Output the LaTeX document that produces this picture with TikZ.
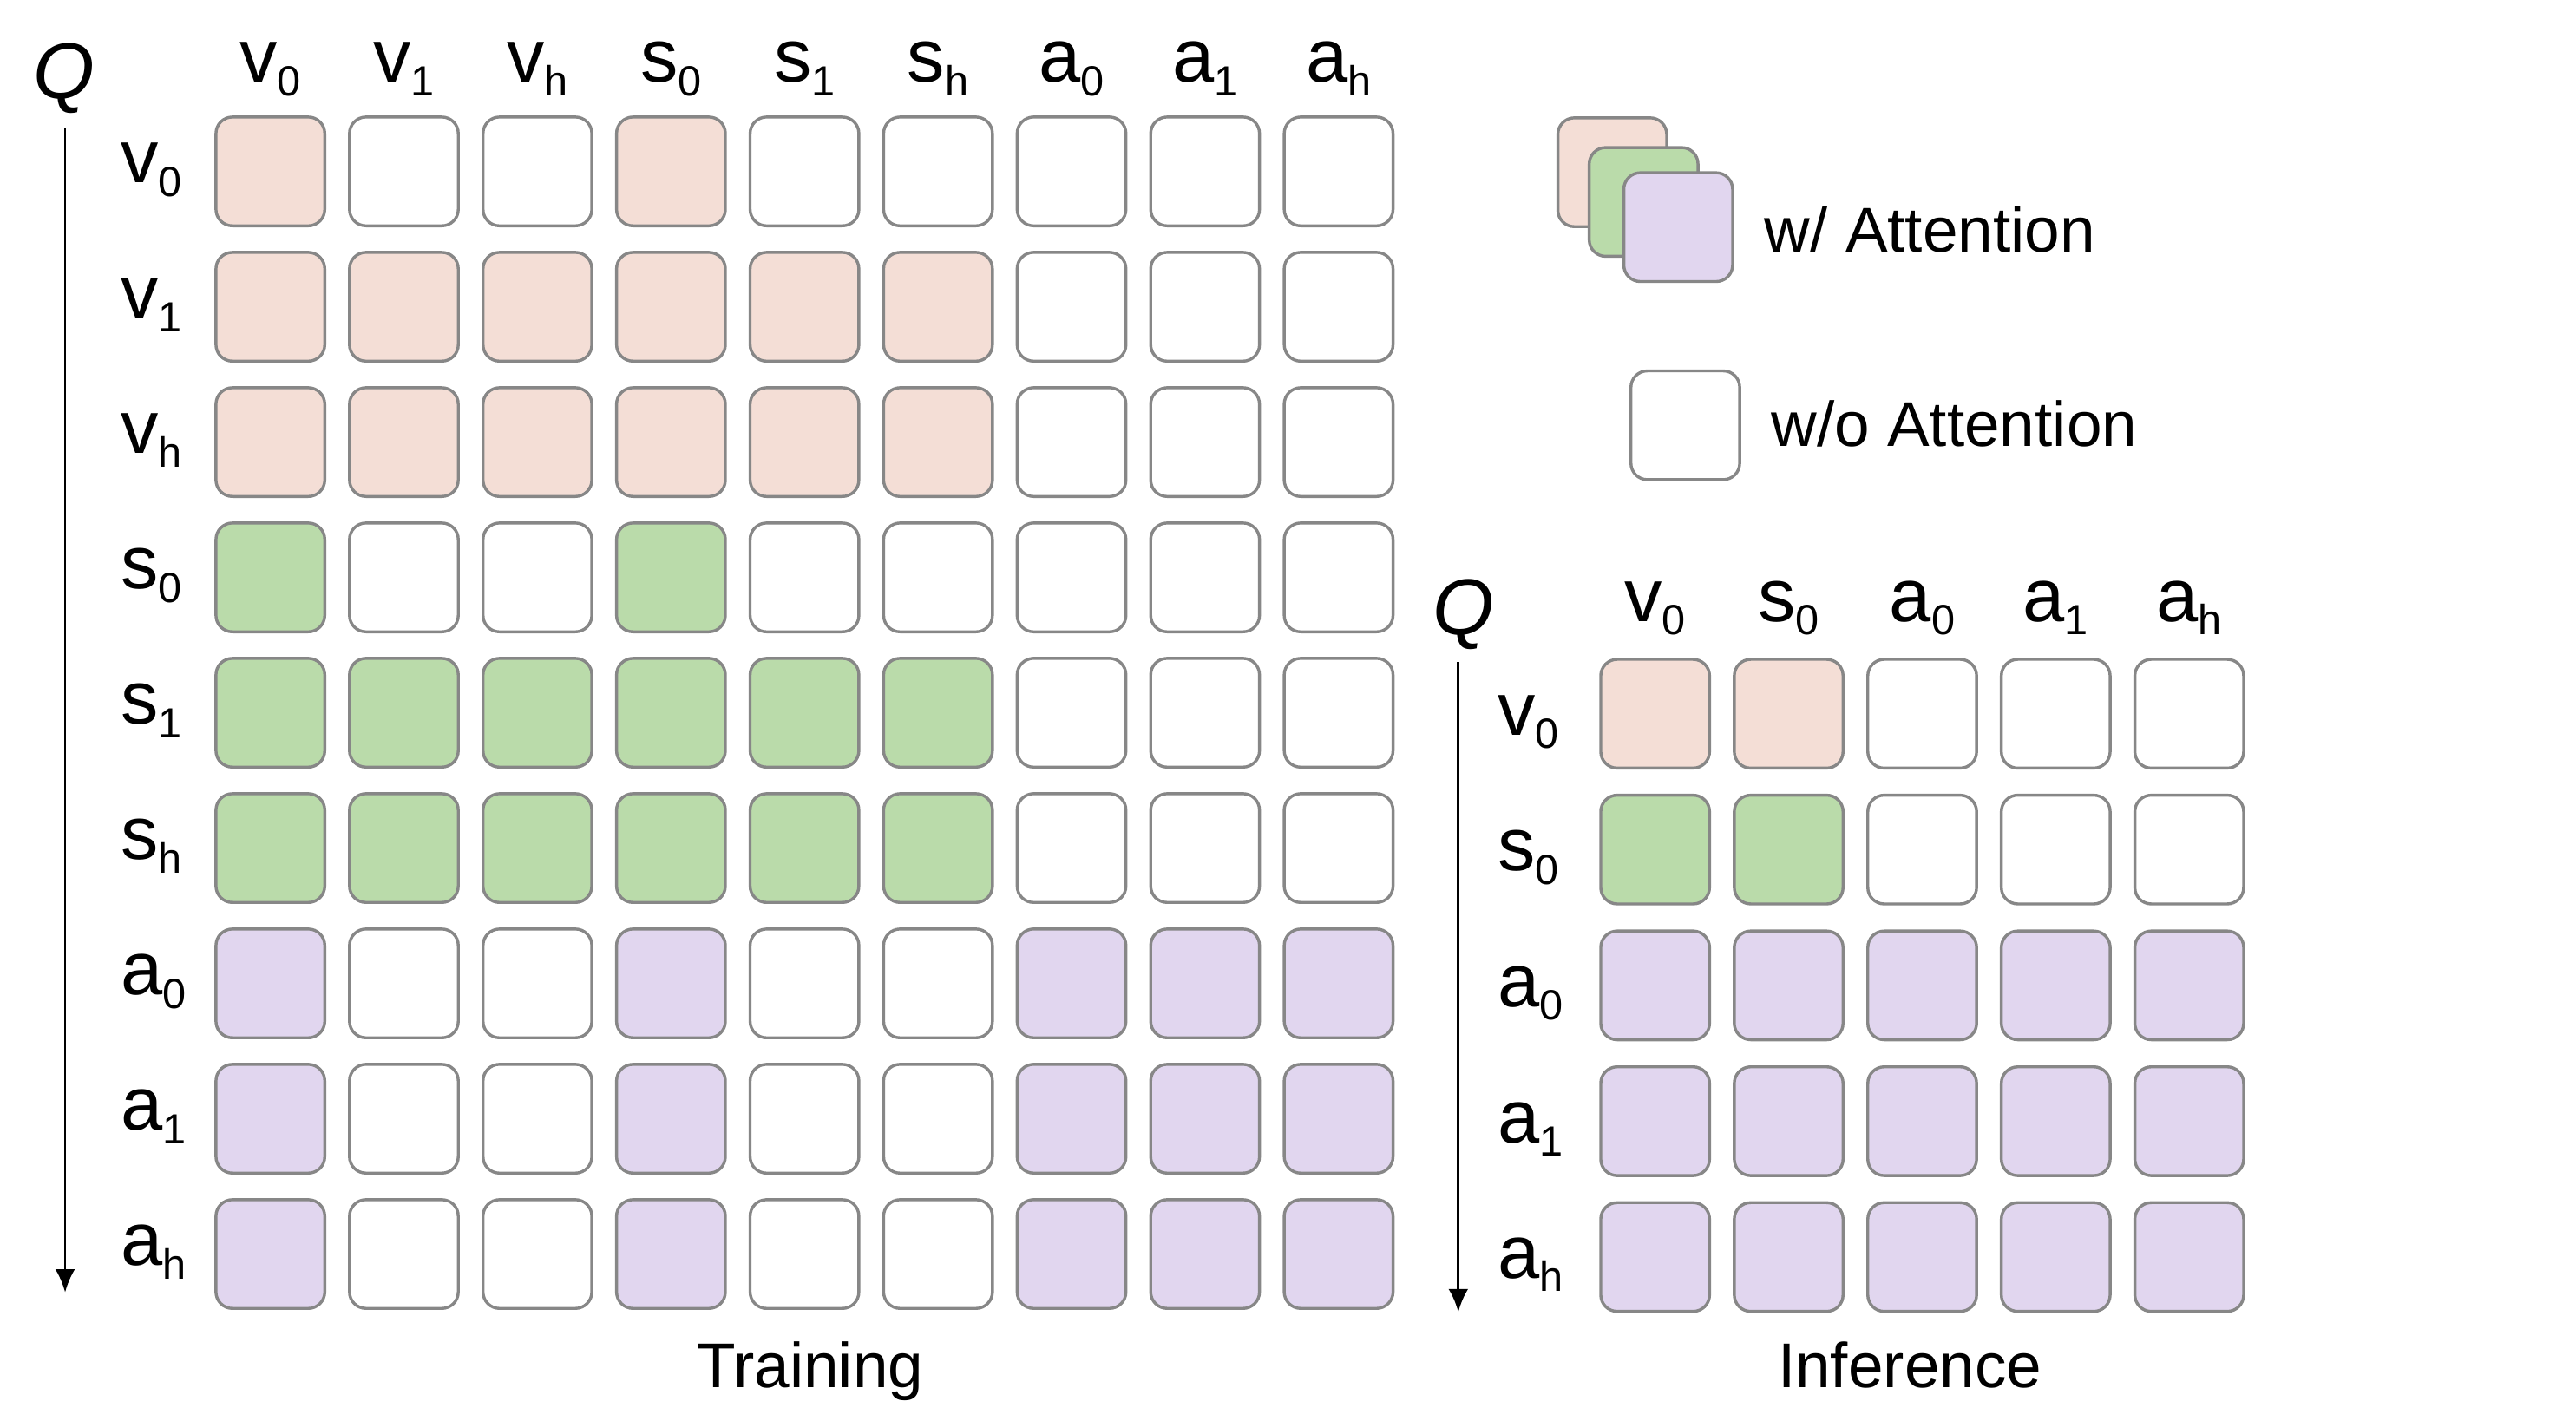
\documentclass[tikz,border=0pt]{standalone}
\usepackage{fontspec}
\setmainfont{Liberation Sans}
\usetikzlibrary{arrows.meta}
\definecolor{cp}{HTML}{F4DED6}
\definecolor{cg}{HTML}{BADBAA}
\definecolor{cu}{HTML}{E1D6EF}
\definecolor{cw}{HTML}{FFFFFF}
\definecolor{cellgray}{HTML}{878787}
\newcommand\tkn[2]{#1\raisebox{-4pt}{\fontsize{12.8}{13}\selectfont #2}}
\tikzset{
  cell/.style={draw=cellgray, line width=0.9pt, rounded corners=5pt, minimum size=33pt, inner sep=0pt},
  tok/.style={font=\fontsize{22.8}{24}\selectfont, inner sep=0pt},
  caption/.style={font=\fontsize{19.2}{21}\selectfont, inner sep=0pt, anchor=base},
  qlabel/.style={font=\fontsize{24}{26}\selectfont\itshape, inner sep=0pt, anchor=base west},
  qarrow/.style={line width=0.75pt, -{Latex[length=7pt,width=6pt]}},
}
\begin{document}
\begin{tikzpicture}[x=0.5pt, y=-0.5pt]
            \useasboundingbox (0,0) rectangle (1562.6,861.6);
            % training
            \foreach \row [count=\r] in {{p,w,w,p,w,w,w,w,w},{p,p,p,p,p,p,w,w,w},{p,p,p,p,p,p,w,w,w},
                {g,w,w,g,w,w,w,w,w},{g,g,g,g,g,g,w,w,w},{g,g,g,g,g,g,w,w,w},
                {u,w,w,u,w,w,u,u,u},{u,w,w,u,w,w,u,u,u},{u,w,w,u,w,w,u,u,u}}
                {
                    \foreach \f [count=\c] in \row
                        {
                            \node[cell, fill=c\f] (t-\r-\c) at ({164+81*(\c-1)},{104+82.1*(\r-1)}) {};
                        }
                }
            \foreach \sym/\idx [count=\r] in {v/0,v/1,v/h,s/0,s/1,s/h,a/0,a/1,a/h}
                {
                    \node[tok, anchor=base] (tc-\r) at ({164+81*(\r-1)},50) {\tkn{\sym}{\idx}};
                    \node[tok, anchor=base west] (tr-\r) at (73,{111+82.1*(\r-1)}) {\tkn{\sym}{\idx}};
                }
            \node[qlabel] (tq) at (20,60) {Q};
            \coordinate (tq-top) at (39.5,78);
            \coordinate (tq-bot) at (39.5,784);
            \draw[qarrow] (tq-top) -- (tq-bot);
            \node[caption] (train) at (491.5,842) {Training};
            % inference
            \foreach \row [count=\r] in {{p,p,w,w,w},{g,g,w,w,w},{u,u,u,u,u},{u,u,u,u,u},{u,u,u,u,u}}
                {
                    \foreach \f [count=\c] in \row
                        {
                            \node[cell, fill=c\f] (i-\r-\c) at ({1004+81*(\c-1)},{433+82.4*(\r-1)}) {};
                        }
                }
            \foreach \sym/\idx [count=\r] in {v/0,s/0,a/0,a/1,a/h}
                {
                    \node[tok, anchor=base] (ic-\r) at ({1004+81*(\r-1)},377) {\tkn{\sym}{\idx}};
                    \node[tok, anchor=base west] (ir-\r) at (908,{446+82.4*(\r-1)}) {\tkn{\sym}{\idx}};
                }
            \node[qlabel] (iq) at (869,385) {Q};
            \coordinate (iq-top) at (884.6,401.6);
            \coordinate (iq-bot) at (884.6,796);
            \draw[qarrow] (iq-top) -- (iq-bot);
            \node[caption] (infer) at (1158.5,842) {Inference};
            % legend
            \node[cell, fill=cp] (lg-p) at (978,104.5) {};
            \node[cell, fill=cg] (lg-g) at (997,122.5) {};
            \node[cell, fill=cu] (lg-u) at (1018,137.8) {};
            \node[caption, anchor=base west] (lg-att) at (1070,153) {w/ Attention};
            \node[cell, fill=cw] (lg-w) at (1022.3,258) {};
            \node[caption, anchor=base west] (lg-noatt) at (1074,271) {w/o Attention};
\end{tikzpicture}
\end{document}
